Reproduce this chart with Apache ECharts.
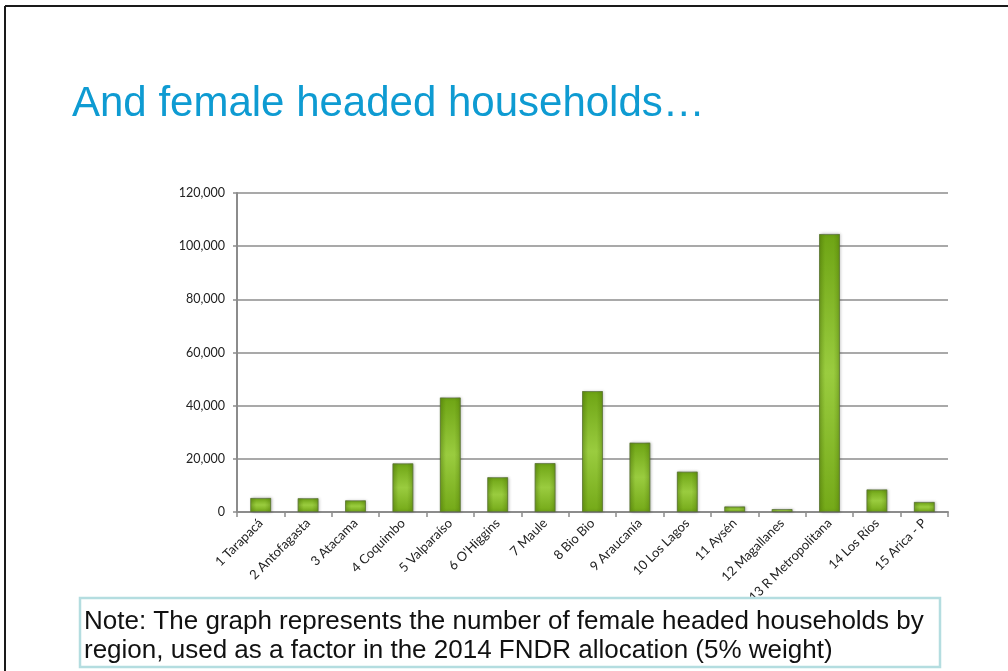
<!DOCTYPE html>
<html>
<head>
<meta charset="utf-8">
<title>And female headed households…</title>
<script src="https://cdn.jsdelivr.net/npm/echarts@6/dist/echarts.min.js"></script>
<style>
  html, body { margin: 0; padding: 0; background: #ffffff; }
  #chart { width: 1008px; height: 671px; }
</style>
</head>
<body>
<div id="chart"></div>
<script>
// Regions of Chile and number of female headed households in each
const regions = [
  '1 Tarapacá', '2 Antofagasta', '3 Atacama', '4 Coquimbo', '5 Valparaíso',
  '6 O\'Higgins', '7 Maule', '8 Bio Bio', '9 Araucanía', '10 Los Lagos',
  '11 Aysén', '12 Magallanes', '13 R Metropolitana', '14 Los Ríos', '15 Arica - P'
];
const households = [
  5300, 5200, 4400, 18300, 43100,
  13100, 18400, 45500, 26100, 15200,
  2100, 1100, 104600, 8500, 3800
];
const yMax = 120000;
const yStep = 20000;

const titleText = 'And female headed households…';
const noteLines = [
  'Note: The graph represents the number of female headed households by',
  'region, used as a factor in the 2014 FNDR allocation (5% weight)'
];

const chart = echarts.init(document.getElementById('chart'), null, { renderer: 'canvas' });

const axisFont = 'Lato, "DejaVu Sans", sans-serif';
const gridColor = '#8c8c8c';

chart.setOption({
  backgroundColor: '#ffffff',
  animation: false,
  grid: { left: 237, right: 60, top: 193, bottom: 159, containLabel: false },
  xAxis: {
    type: 'category',
    data: regions,
    axisLine: { show: true, lineStyle: { color: gridColor, width: 2 } },
    axisTick: { show: true, alignWithLabel: false, length: 5, lineStyle: { color: gridColor, width: 1.5 } },
    axisLabel: {
      rotate: 45, interval: 0, margin: 9,
      color: '#222', fontSize: 13, fontFamily: axisFont
    }
  },
  yAxis: {
    type: 'value',
    min: 0, max: yMax, interval: yStep,
    axisLine: { show: true, lineStyle: { color: gridColor, width: 2 } },
    axisTick: { show: true, length: 4, lineStyle: { color: gridColor, width: 1.5 } },
    splitLine: { show: true, lineStyle: { color: gridColor, width: 1.5 } },
    axisLabel: {
      margin: 12, color: '#222', fontSize: 12.5, fontFamily: axisFont,
      formatter: v => v.toLocaleString('en-US')
    }
  },
  series: [
    {
      type: 'bar',
      data: households,
      barWidth: '44%',
      itemStyle: {
        color: new echarts.graphic.LinearGradient(0, 0, 0, 1, [
          { offset: 0, color: '#6ea414' },
          { offset: 0.5, color: '#9acc3f' },
          { offset: 1, color: '#74a918' }
        ]),
        borderColor: 'rgba(95,115,70,0.75)',
        borderWidth: 1,
        shadowColor: 'rgba(0,0,0,0.25)',
        shadowBlur: 3,
        shadowOffsetX: 1,
        shadowOffsetY: 0
      },
      z: 3
    },
    {
      // darker side edges layered over each bar
      type: 'bar',
      data: households,
      barWidth: '44%',
      barGap: '-100%',
      silent: true,
      itemStyle: {
        color: new echarts.graphic.LinearGradient(0, 0, 1, 0, [
          { offset: 0, color: 'rgba(70,110,0,0.35)' },
          { offset: 0.3, color: 'rgba(70,110,0,0)' },
          { offset: 0.7, color: 'rgba(70,110,0,0)' },
          { offset: 1, color: 'rgba(70,110,0,0.35)' }
        ])
      },
      z: 4
    }
  ],
  graphic: [
    // slide frame
    { type: 'line', shape: { x1: 5, y1: 6, x2: 1008, y2: 6 }, style: { stroke: '#1a1a1a', lineWidth: 2 }, z: 10 },
    { type: 'line', shape: { x1: 5, y1: 6, x2: 5, y2: 671 }, style: { stroke: '#1a1a1a', lineWidth: 2 }, z: 10 },
    // slide title
    {
      type: 'text', left: 72, top: 83, z: 10,
      style: {
        text: titleText, fill: '#0e9bd2',
        font: '42px "Liberation Sans", Arial, sans-serif'
      }
    },
    // note box, drawn over the axis labels
    {
      type: 'rect', z: 20,
      shape: { x: 80, y: 598, width: 860, height: 69 },
      style: { fill: '#ffffff', stroke: '#b4dde0', lineWidth: 2.5 }
    },
    {
      type: 'text', z: 21, left: 84, top: 607,
      style: {
        text: noteLines.join('\n'), fill: '#111',
        font: '26px "Liberation Sans", Arial, sans-serif',
        lineHeight: 29
      }
    }
  ]
});
</script>
</body>
</html>
